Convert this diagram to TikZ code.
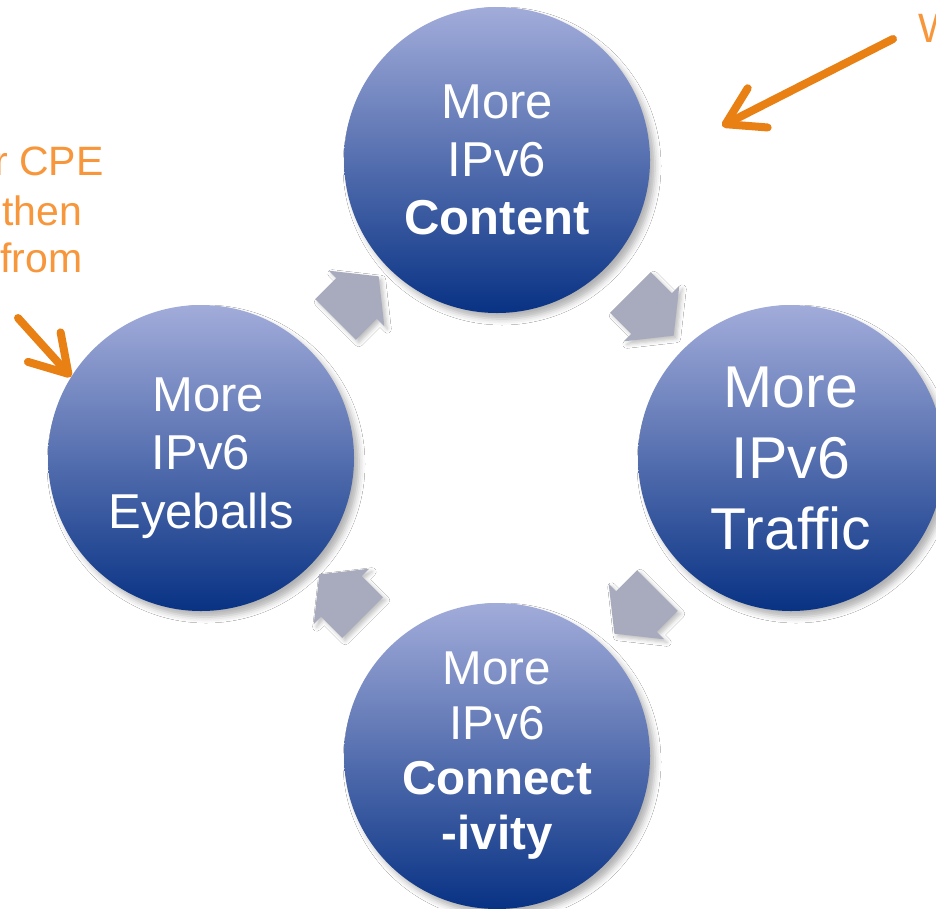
\documentclass[tikz,border=0pt]{standalone}
\usepackage{fontspec}
\setmainfont{Liberation Sans}
\usetikzlibrary{shapes.arrows,shadows.blur,arrows.meta,calc}
\definecolor{ballTop}{RGB}{162,172,218}
\definecolor{ballBottom}{RGB}{8,50,132}
\definecolor{cycleGray}{RGB}{168,171,189}
\definecolor{noteOrange}{RGB}{232,128,20}
\definecolor{noteText}{RGB}{247,150,58}
\tikzset{
  ball/.style={circle, minimum size=306pt, inner sep=0pt, top color=ballTop,
    bottom color=ballBottom, text=white, align=center,
    blur shadow={shadow xshift=5pt, shadow yshift=-6pt, shadow blur radius=6pt, shadow opacity=30}},
  cyclearrow/.style={single arrow, fill=cycleGray, inner xsep=0pt, inner ysep=28.5pt,
    minimum height=61pt, single arrow head extend=10.5pt, single arrow tip angle=103,
    blur shadow={shadow xshift=3pt, shadow yshift=-3pt, shadow blur radius=4pt, shadow opacity=25}},
  notearrow/.style={draw=noteOrange, line width=8pt, line cap=round,
    -{Straight Barb[length=36pt, width=44pt, round]}},
  notetext/.style={text=noteText, inner sep=0pt, font=\fontsize{41}{48}\selectfont}
}

\begin{document}
\begin{tikzpicture}[x=1pt,y=1pt]
	\fill[white] (0,0) rectangle (936,-908);
	\useasboundingbox (0,0) rectangle (936,-908);
	\clip (0,0) rectangle (936,-908);
	% the four stages
	\node[ball, font=\fontsize{49}{58}\selectfont] (content) at (497,-160) {More\\IPv6\\\textbf{Content}};
	\node[ball, font=\fontsize{59}{71}\selectfont] (traffic) at (791,-458) {More\\IPv6\\Traffic};
	\node[ball, font=\fontsize{47.5}{55}\selectfont] (connect) at (497,-756) {More\\IPv6\\\textbf{Connect}\\\textbf{-ivity}};
	\node[ball, font=\fontsize{49}{58.5}\selectfont] (eyeballs) at (201,-458) {\hspace*{14pt}More\\IPv6\\Eyeballs};
	% cycle arrows
	\node[cyclearrow, rotate=45] (a1) at ($(eyeballs)!.5!(content)+(0,3)$) {};
	\node[cyclearrow, rotate=-45] (a2) at ($(content)!.5!(traffic)+(0,3)$) {};
	\node[cyclearrow, rotate=-135] (a3) at ($(traffic)!.5!(connect)+(0,3)$) {};
	\node[cyclearrow, rotate=135] (a4) at ($(connect)!.5!(eyeballs)+(0,3)$) {};
	% notes
	\node[notetext, anchor=base west] (cpe) at (-6,-175) {r CPE};
	\node[notetext, anchor=base west] (then) at (2,-225) {then};
	\node[notetext, anchor=base west] (from) at (0,-272) {from};
	\node[notetext, anchor=base west] (w) at (918,-42) {W};
	\coordinate (wtail) at (893,-39);
	\coordinate (wtip) at (722,-126);
	\coordinate (ctail) at (18,-318);
	\draw[notearrow] (wtail) -- (wtip);
	\draw[notearrow] (ctail) -- (eyeballs.148);
\end{tikzpicture}
\end{document}
